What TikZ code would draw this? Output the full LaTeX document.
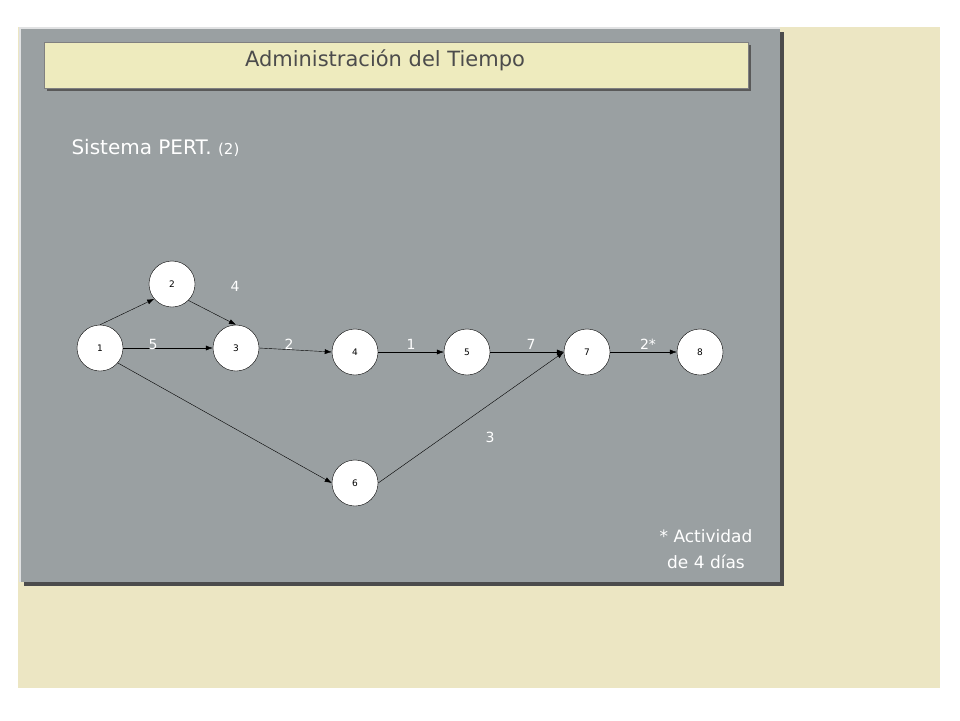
\documentclass[tikz,border=0pt]{standalone}
\usepackage{fontspec}
\setmainfont{DejaVu Sans}
\usetikzlibrary{arrows.meta,positioning}
\definecolor{cream}{HTML}{ECE6C3}
\definecolor{panel}{HTML}{9AA0A2}
\definecolor{titlebg}{HTML}{EEEBBE}
\tikzset{
  event/.style={circle, draw=black, fill=white, minimum size=46pt, inner sep=0pt, font=\fontsize{9}{9}\selectfont},
  act/.style={-{Latex[length=7pt,width=5pt]}, black},
  dur/.style={white, font=\fontsize{14}{14}\selectfont}
}
\begin{document}
\begin{tikzpicture}[x=1pt,y=-1pt]
    % Background
    \useasboundingbox (0,0) rectangle (960,720);
    \fill[white] (0,0) rectangle (960,720);
    \fill[cream] (18,27) rectangle (940,688);
    \fill[gray!60!black] (24,32) rectangle (784,586);
    \fill[panel] (20,28) rectangle (780,582);
    \draw[white!70!panel, line width=1.5pt] (20,582) -- (20,28) -- (780,28);

    % Title
    \fill[gray!70!black] (47,45) rectangle (751,91);
    \draw[fill=titlebg, draw=gray] (44,42) rectangle (748,88);
    \node (title) at (385,60) {\fontsize{21}{21}\selectfont\color{black!70}Administración del Tiempo};
    \node[anchor=west, white] (sub) at (68,148) {\fontsize{20}{20}\selectfont Sistema PERT. {\fontsize{15}{15}\selectfont(2)}};

    % Events
    \node[event] (n1) at (100,348) {1};
    \node[event] (n2) at (172,284) {2};
    \node[event] (n3) at (236,348) {3};
    \node[event] (n4) at (355,352) {4};
    \node[event] (n5) at (467,352) {5};
    \node[event] (n7) at (587,352) {7};
    \node[event] (n8) at (700,352) {8};
    \node[event] (n6) at (355,483) {6};

    % Activities
    \draw[act] (n1.north) -- (n2.220);
    \draw[act] (n2.315) -- (n3.north);
    \draw[act] (n1.east) -- (n3.west);
    \draw[act] (n3.east) -- (n4.west);
    \draw[act] (n4.east) -- (n5.west);
    \draw[act] (n5.east) -- (n7.west);
    \draw[act] (n7.east) -- (n8.west);
    \draw[act] (n1.-40) -- (n6.west);
    \draw[act] (n6.east) -- (n7.west);

    % Durations
    \node[dur] (d23) at (235,286) {4};
    \node[dur] (d13) at (153,344) {5};
    \node[dur] (d34) at (289,344) {2};
    \node[dur] (d45) at (411,344) {1};
    \node[dur] (d57) at (531,344) {7};
    \node[dur] (d78) at (648,344) {2*};
    \node[dur] (d67) at (490,437) {3};

    % Note
    \node[white, align=center, font=\fontsize{17}{26}\selectfont] (note) at (706,549) {* Actividad\\ de 4 días};
\end{tikzpicture}
\end{document}
